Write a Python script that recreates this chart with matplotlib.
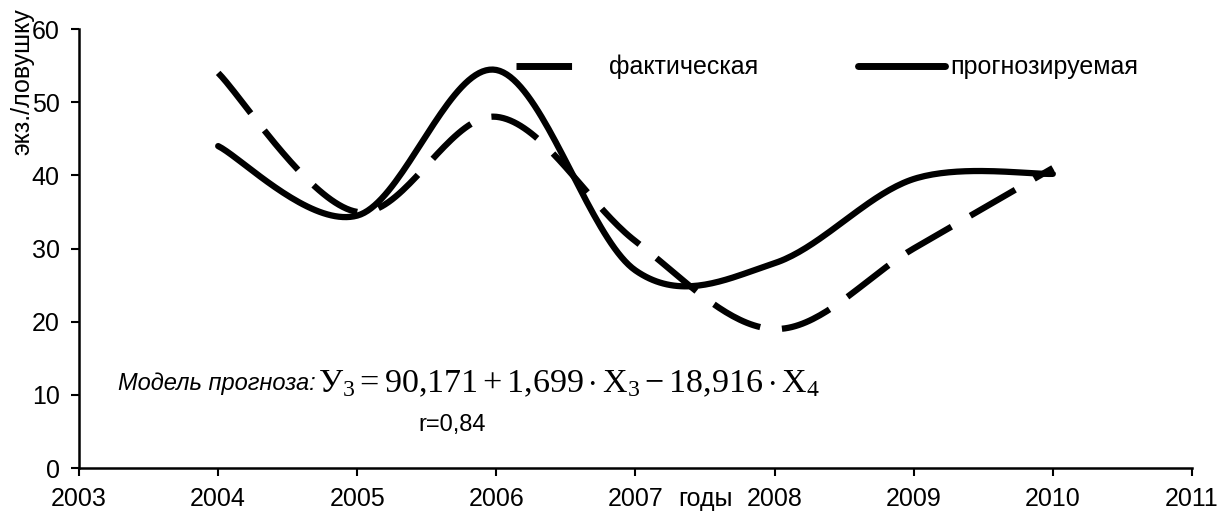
import numpy as np
import matplotlib
matplotlib.use("Agg")
import matplotlib.pyplot as plt
from matplotlib.lines import Line2D

# data
years = [2004, 2005, 2006, 2007, 2008, 2009, 2010]
actual = [54, 35, 48, 31, 19, 30, 41]          # фактическая
forecast = [44, 34.5, 54.4, 27, 28, 39.5, 40.2]  # прогнозируемая
xticks = list(range(2003, 2012))
yticks = list(range(0, 61, 10))


def smooth(x, y, n=40):
    """Catmull-Rom curve, like Excel's smoothed line"""
    x = np.asarray(x, float)
    y = np.asarray(y, float)
    px = np.concatenate([[x[0]], x, [x[-1]]])
    py = np.concatenate([[y[0]], y, [y[-1]]])
    xs, ys = [], []
    for i in range(1, len(px) - 2):
        t = np.linspace(0, 1, n, endpoint=(i == len(px) - 3))
        h00 = 2 * t**3 - 3 * t**2 + 1
        h10 = t**3 - 2 * t**2 + t
        h01 = -2 * t**3 + 3 * t**2
        h11 = t**3 - t**2
        mx0 = (px[i + 1] - px[i - 1]) / 2
        mx1 = (px[i + 2] - px[i]) / 2
        my0 = (py[i + 1] - py[i - 1]) / 2
        my1 = (py[i + 2] - py[i]) / 2
        xs.append(h00 * px[i] + h10 * mx0 + h01 * px[i + 1] + h11 * mx1)
        ys.append(h00 * py[i] + h10 * my0 + h01 * py[i + 1] + h11 * my1)
    return np.concatenate(xs), np.concatenate(ys)


plt.rcParams['font.family'] = ['Liberation Sans', 'DejaVu Sans']
plt.rcParams['mathtext.fontset'] = 'custom'
plt.rcParams['mathtext.rm'] = 'Liberation Serif'
plt.rcParams['mathtext.it'] = 'Liberation Serif:italic'

fig = plt.figure(figsize=(12.2, 5.18), dpi=100)
ax = fig.add_axes([0.0648, 0.0965, 0.9122, 0.8475])

xa, ya = smooth(years, actual)
xf, yf = smooth(years, forecast)
ax.plot(xa, ya, color='black', lw=4.5, dashes=(8.3, 3.5),
        dash_capstyle='butt')
ax.plot(xf, yf, color='black', lw=4.5, solid_capstyle='round')

ax.set_xlim(2003, 2011)
ax.set_ylim(0, 60)
ax.set_xticks(xticks)
ax.set_yticks(yticks)
ax.tick_params(direction='out', length=6, width=1.5, labelsize=18, pad=8)
for s in ['top', 'right']:
    ax.spines[s].set_visible(False)
for s in ['left', 'bottom']:
    ax.spines[s].set_linewidth(1.8)

# axis titles
ax.annotate('годы', xy=(2007.5, 0), xytext=(0, -14), textcoords='offset points',
            ha='center', va='top', fontsize=18)
fig.text(22 / 1220, 1 - 8 / 518, 'экз./ловушку', rotation=90,
         ha='center', va='top', fontsize=18)

# legend with proxy handles (a single dash for the dashed sample)
handles = [
    Line2D([], [], color='black', lw=5, dashes=(8, 10), dash_capstyle='butt'),
    Line2D([], [], color='black', lw=5, solid_capstyle='round'),
]
ax.legend(handles, ['фактическая', 'прогнозируемая'],
          loc='center left', bbox_to_anchor=(516 / 1220, 1 - 67 / 518),
          bbox_transform=fig.transFigure, ncol=2, frameon=False,
          fontsize=18, handlelength=3.5, handletextpad=0.2,
          columnspacing=4.0, borderpad=0, borderaxespad=0)

ax.text(2003.28, 11.5, 'Модель прогноза:', style='italic', fontsize=17,
        va='center', ha='left')
ax.text(2004.72, 11.5,
        r'$\mathrm{У}_3 = 90{,}171 + 1{,}699\cdot\mathrm{X}_3 - 18{,}916\cdot\mathrm{X}_4$',
        fontsize=24.5, va='center', ha='left')
ax.text(2005.68, 5.9, 'r=0,84', fontsize=17, va='center', ha='center')

fig.savefig('out.png', dpi=100)
